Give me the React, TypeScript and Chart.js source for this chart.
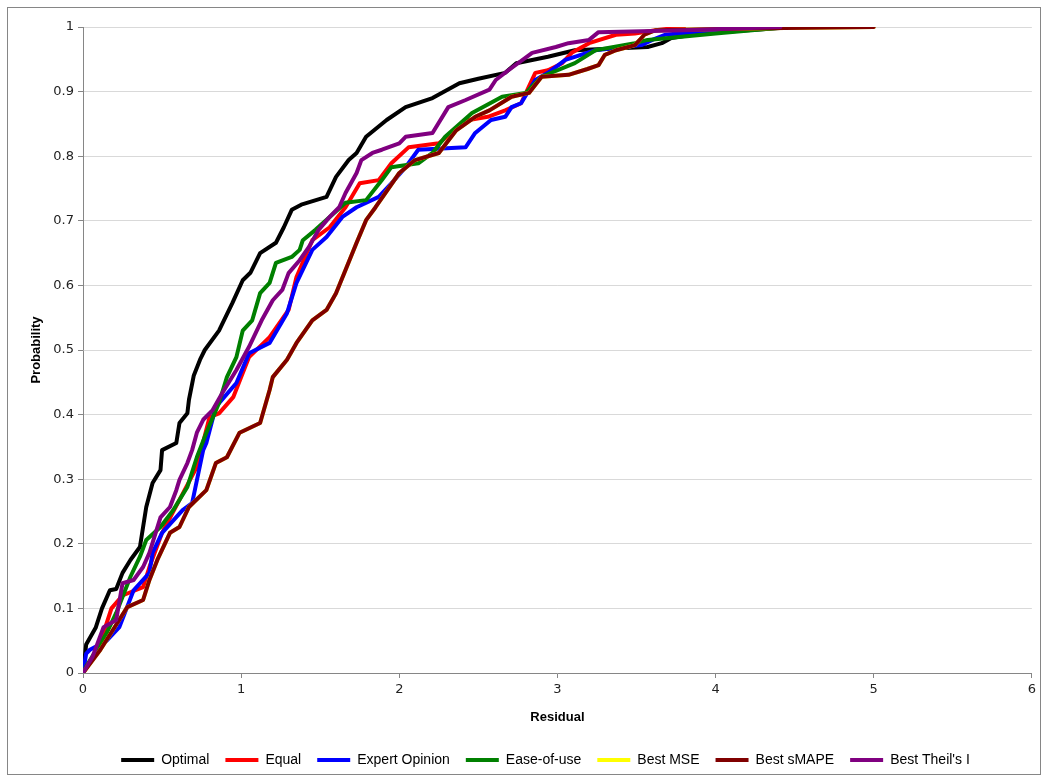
import React, { useEffect, useRef } from "react";
import { Chart, registerables } from "chart.js";

Chart.register(...registerables);

const seriesNames = ["Optimal", "Equal", "Expert Opinion", "Ease-of-use", "Best MSE", "Best sMAPE", "Best Theil's I"];
const seriesColors = ["#000000", "#ff0000", "#0000ff", "#008000", "#ffff00", "#800000", "#800080"];

const xTicks = [0, 1, 2, 3, 4, 5, 6];

const optimalX = [0, 0.02, 0.08, 0.12, 0.17, 0.21, 0.25, 0.3, 0.36, 0.38, 0.4, 0.44, 0.49, 0.5, 0.59, 0.61, 0.66, 0.67, 0.7, 0.74, 0.77, 0.86, 0.945, 1.01, 1.06, 1.12, 1.22, 1.27, 1.32, 1.38, 1.54, 1.6, 1.68, 1.73, 1.79, 1.92, 2.04, 2.21, 2.38, 2.5, 2.67, 2.74, 2.94, 3.11, 3.57, 3.66, 3.72, 3.9, 4.2, 4.5];
const optimalY = [0, 0.044, 0.07, 0.1, 0.128, 0.13, 0.155, 0.175, 0.195, 0.226, 0.257, 0.294, 0.314, 0.345, 0.356, 0.387, 0.402, 0.423, 0.46, 0.485, 0.5, 0.53, 0.573, 0.608, 0.62, 0.65, 0.666, 0.69, 0.717, 0.725, 0.737, 0.768, 0.794, 0.805, 0.83, 0.856, 0.876, 0.89, 0.913, 0.92, 0.929, 0.944, 0.954, 0.964, 0.969, 0.975, 0.983, 0.99, 0.995, 1];

const equalX = [0, 0.04, 0.1, 0.18, 0.25, 0.3, 0.38, 0.42, 0.5, 0.61, 0.72, 0.8, 0.86, 0.95, 1.05, 1.18, 1.3, 1.35, 1.45, 1.56, 1.66, 1.75, 1.87, 1.95, 2.06, 2.25, 2.44, 2.56, 2.67, 2.77, 2.86, 2.94, 3.03, 3.09, 3.2, 3.37, 3.49, 3.62, 3.8];
const equalY = [0, 0.015, 0.04, 0.1, 0.12, 0.125, 0.133, 0.164, 0.217, 0.268, 0.319, 0.396, 0.402, 0.427, 0.489, 0.52, 0.562, 0.613, 0.67, 0.69, 0.721, 0.758, 0.763, 0.789, 0.814, 0.82, 0.856, 0.861, 0.871, 0.882, 0.929, 0.933, 0.944, 0.96, 0.975, 0.988, 0.99, 0.995, 1];

const expertX = [0, 0.02, 0.044, 0.15, 0.23, 0.32, 0.42, 0.44, 0.5, 0.63, 0.69, 0.76, 0.78, 0.84, 0.97, 1.05, 1.18, 1.29, 1.35, 1.45, 1.54, 1.64, 1.73, 1.87, 1.95, 2.04, 2.12, 2.42, 2.48, 2.58, 2.67, 2.71, 2.77, 2.86, 2.94, 3.05, 3.24, 3.53, 3.6, 3.68, 4.2];
const expertY = [0, 0.03, 0.036, 0.05, 0.071, 0.128, 0.155, 0.186, 0.217, 0.252, 0.263, 0.345, 0.356, 0.412, 0.449, 0.495, 0.511, 0.557, 0.604, 0.655, 0.675, 0.706, 0.721, 0.737, 0.758, 0.783, 0.81, 0.814, 0.836, 0.856, 0.861, 0.876, 0.882, 0.918, 0.929, 0.949, 0.964, 0.972, 0.98, 0.988, 1];

const easeX = [0, 0.02, 0.15, 0.21, 0.3, 0.36, 0.4, 0.49, 0.57, 0.66, 0.72, 0.78, 0.86, 0.91, 0.97, 1.01, 1.07, 1.12, 1.18, 1.22, 1.32, 1.37, 1.39, 1.47, 1.56, 1.66, 1.79, 1.89, 1.95, 2.12, 2.21, 2.29, 2.46, 2.65, 2.8, 2.9, 3.11, 3.24, 3.49, 3.57, 4.0, 4.46];
const easeY = [0, 0.01, 0.062, 0.093, 0.149, 0.18, 0.206, 0.226, 0.252, 0.288, 0.334, 0.372, 0.418, 0.458, 0.489, 0.53, 0.546, 0.588, 0.604, 0.635, 0.644, 0.655, 0.67, 0.686, 0.706, 0.728, 0.732, 0.763, 0.783, 0.789, 0.805, 0.83, 0.867, 0.892, 0.898, 0.923, 0.944, 0.964, 0.975, 0.98, 0.99, 1];

const mseX = [0, 0.11, 0.19, 0.28, 0.38, 0.42, 0.47, 0.55, 0.61, 0.67, 0.78, 0.84, 0.91, 0.99, 1.12, 1.18, 1.2, 1.29, 1.35, 1.45, 1.54, 1.6, 1.66, 1.73, 1.79, 1.85, 2.0, 2.1, 2.25, 2.36, 2.48, 2.57, 2.71, 2.82, 2.9, 3.07, 3.19, 3.26, 3.3, 3.37, 3.49, 3.55, 3.62, 4.3, 5.0];
const mseY = [0, 0.036, 0.067, 0.102, 0.113, 0.144, 0.175, 0.217, 0.226, 0.257, 0.283, 0.325, 0.334, 0.372, 0.387, 0.438, 0.458, 0.485, 0.511, 0.546, 0.562, 0.588, 0.624, 0.666, 0.701, 0.721, 0.774, 0.794, 0.805, 0.84, 0.861, 0.871, 0.892, 0.898, 0.923, 0.926, 0.935, 0.941, 0.957, 0.964, 0.972, 0.988, 0.995, 0.998, 1];

const smapeX = [0, 0.11, 0.19, 0.28, 0.38, 0.42, 0.47, 0.55, 0.61, 0.67, 0.78, 0.84, 0.91, 0.99, 1.12, 1.18, 1.2, 1.29, 1.35, 1.45, 1.54, 1.6, 1.66, 1.73, 1.79, 1.85, 2.0, 2.1, 2.25, 2.36, 2.48, 2.57, 2.71, 2.82, 2.9, 3.07, 3.19, 3.26, 3.3, 3.37, 3.49, 3.55, 3.62, 4.3, 5.0];
const smapeY = [0, 0.036, 0.067, 0.102, 0.113, 0.144, 0.175, 0.217, 0.226, 0.257, 0.283, 0.325, 0.334, 0.372, 0.387, 0.438, 0.458, 0.485, 0.511, 0.546, 0.562, 0.588, 0.624, 0.666, 0.701, 0.721, 0.774, 0.794, 0.805, 0.84, 0.861, 0.871, 0.892, 0.898, 0.923, 0.926, 0.935, 0.941, 0.957, 0.964, 0.972, 0.988, 0.995, 0.998, 1];

const theilX = [0, 0.06, 0.13, 0.21, 0.25, 0.32, 0.38, 0.42, 0.49, 0.55, 0.59, 0.61, 0.66, 0.69, 0.72, 0.76, 0.82, 0.88, 0.97, 1.05, 1.13, 1.2, 1.26, 1.3, 1.37, 1.43, 1.49, 1.56, 1.62, 1.66, 1.73, 1.76, 1.83, 1.89, 2.0, 2.04, 2.21, 2.31, 2.42, 2.57, 2.61, 2.69, 2.84, 2.99, 3.07, 3.2, 3.26, 3.8, 4.41];
const theilY = [0, 0.025, 0.071, 0.082, 0.139, 0.144, 0.164, 0.186, 0.241, 0.257, 0.283, 0.299, 0.325, 0.345, 0.372, 0.392, 0.407, 0.433, 0.469, 0.505, 0.546, 0.577, 0.593, 0.619, 0.639, 0.66, 0.686, 0.706, 0.721, 0.743, 0.774, 0.794, 0.805, 0.81, 0.82, 0.83, 0.836, 0.876, 0.887, 0.903, 0.918, 0.933, 0.96, 0.969, 0.975, 0.98, 0.992, 0.995, 1];

const seriesXs = [optimalX, equalX, expertX, easeX, mseX, smapeX, theilX];
const seriesYs = [optimalY, equalY, expertY, easeY, mseY, smapeY, theilY];

function zip(xs: number[], ys: number[]) {
  const n = Math.min(xs.length, ys.length);
  const out: { x: number; y: number }[] = [];
  for (let i = 0; i < n; i++) out.push({ x: xs[i], y: ys[i] });
  return out;
}

const legendShift = {
  id: "legendShift",
  afterLayout(chart: any) {
    const l = chart.legend;
    if (l) {
      l.left += 24;
      l.right += 24;
    }
  },
};

export default function App() {
  const ref = useRef<HTMLCanvasElement | null>(null);

  useEffect(() => {
    if (!ref.current) return;
    const n = seriesNames.length;
    const chart = new Chart(ref.current, {
      type: "line",
      data: {
        datasets: seriesNames.map((name, i) => ({
          label: name,
          data: zip(seriesXs[i], seriesYs[i]),
          borderColor: seriesColors[i],
          backgroundColor: seriesColors[i],
          borderWidth: 4,
          pointRadius: 0,
          tension: 0,
          fill: false,
          borderJoinStyle: "round" as const,
          borderCapStyle: "round" as const,
          order: n - i,
        })),
      },
      plugins: [legendShift],
      options: {
        responsive: false,
        animation: false,
        events: [],
        layout: { padding: { left: 0, right: 5, top: 19, bottom: 0 } },
        scales: {
          x: {
            type: "linear",
            min: 0,
            max: 6,
            afterFit: (s: any) => { s.height = 64; },
            afterBuildTicks: (s: any) => { s.ticks = xTicks.map((v) => ({ value: v })); },
            grid: { display: true, drawOnChartArea: false, drawTicks: true, tickLength: 5, tickColor: "#868686" },
            border: { display: true, color: "#868686", width: 1 },
            ticks: {
              padding: 4,
              color: "#222",
              font: { family: "DejaVu Sans", size: 13 },
              callback: (v: any) => String(v),
            },
            title: {
              display: true,
              text: "Residual",
              color: "#000",
              font: { family: "Liberation Sans", size: 13, weight: "bold" },
              padding: { top: 0, bottom: 12 },
            },
          },
          y: {
            type: "linear",
            min: 0,
            max: 1,
            afterFit: (s: any) => { s.width = 75; },
            grid: { color: "#d9d9d9", drawTicks: true, tickLength: 5, tickColor: "#868686" },
            border: { display: true, color: "#868686", width: 1 },
            ticks: {
              stepSize: 0.1,
              padding: 4,
              color: "#222",
              font: { family: "DejaVu Sans", size: 13 },
              callback: (v: any) => String(Math.round(Number(v) * 10) / 10),
            },
            title: {
              display: true,
              text: "Probability",
              color: "#000",
              font: { family: "Liberation Sans", size: 13, weight: "bold" },
              padding: { top: 21, bottom: 0 },
            },
          },
        },
        plugins: {
          legend: {
            position: "bottom",
            labels: {
              usePointStyle: true,
              pointStyle: "line",
              pointStyleWidth: 33,
              boxHeight: 4,
              padding: 16,
              color: "#000",
              font: { family: "Liberation Sans", size: 14 },
              sort: (a: any, b: any) => a.datasetIndex - b.datasetIndex,
            },
          },
          tooltip: { enabled: false },
        },
      },
    } as any);
    return () => chart.destroy();
  }, []);

  return (
    <div
      style={{
        position: "fixed",
        left: 7,
        top: 7,
        width: 1034,
        height: 768,
        border: "1px solid #868686",
        boxSizing: "border-box",
        background: "#fff",
      }}
    >
      <canvas
        ref={ref}
        width={1032}
        height={769}
        style={{ position: "absolute", left: 0, top: 0, display: "block" }}
      />
    </div>
  );
}
